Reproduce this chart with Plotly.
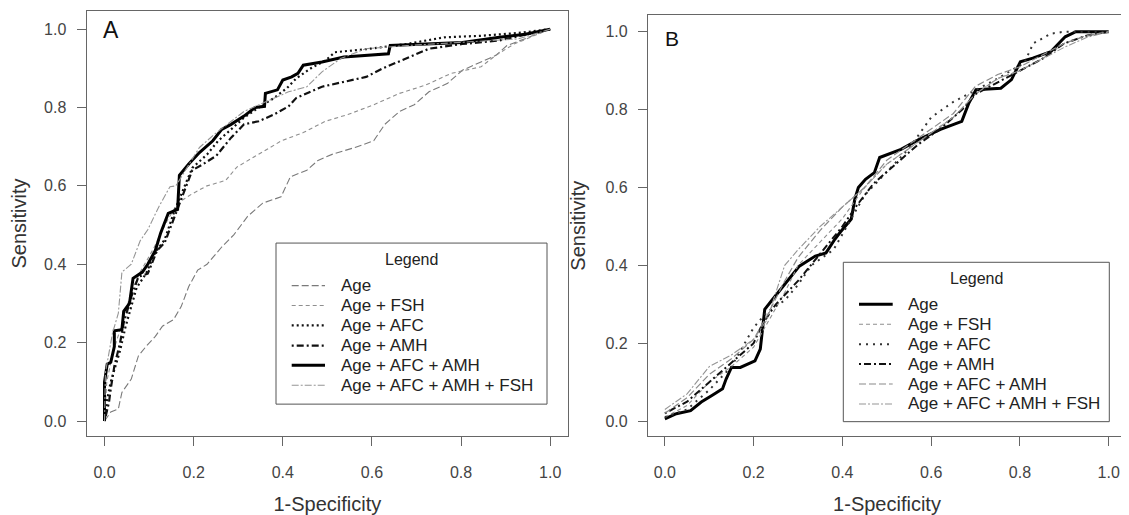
import plotly.graph_objects as go

# ---------------- Panel A data (1-Specificity, Sensitivity) ----------------
a_age_x = [0, 0.014, 0.031, 0.039, 0.06, 0.076, 0.093, 0.114, 0.13, 0.155, 0.172, 0.189, 0.209, 0.23, 0.263, 0.29,
           0.321, 0.355, 0.396, 0.417, 0.454, 0.479, 0.512, 0.562, 0.604, 0.629, 0.662, 0.695, 0.728, 0.77, 0.803,
           0.845, 0.878, 0.903, 0.944, 1.0]
a_age_y = [0, 0.023, 0.031, 0.073, 0.107, 0.166, 0.19, 0.216, 0.242, 0.259, 0.292, 0.343, 0.385, 0.40, 0.444, 0.475,
           0.522, 0.556, 0.572, 0.623, 0.64, 0.665, 0.681, 0.698, 0.715, 0.757, 0.79, 0.807, 0.84, 0.862, 0.895,
           0.916, 0.933, 0.958, 0.975, 1.0]

a_fsh_x = [0, 0.005, 0.02, 0.04, 0.06, 0.08, 0.11, 0.14, 0.164, 0.197, 0.23, 0.272, 0.297, 0.346, 0.397, 0.446,
           0.496, 0.546, 0.604, 0.662, 0.72, 0.778, 0.845, 0.878, 0.919, 1.0]
a_fsh_y = [0, 0.10, 0.18, 0.25, 0.33, 0.38, 0.44, 0.51, 0.556, 0.58, 0.60, 0.614, 0.648, 0.681, 0.715, 0.736,
           0.765, 0.782, 0.807, 0.836, 0.857, 0.887, 0.904, 0.933, 0.962, 1.0]

a_afc_x = [0, 0.006, 0.014, 0.027, 0.035, 0.047, 0.06, 0.072, 0.093, 0.114, 0.135, 0.155, 0.18, 0.197, 0.23, 0.255,
           0.28, 0.313, 0.346, 0.38, 0.409, 0.43, 0.463, 0.496, 0.517, 0.596, 0.678, 0.762, 0.845, 0.928, 1.0]
a_afc_y = [0, 0.056, 0.10, 0.15, 0.18, 0.24, 0.29, 0.34, 0.376, 0.43, 0.463, 0.53, 0.60, 0.646, 0.68, 0.715,
           0.74, 0.774, 0.80, 0.824, 0.849, 0.874, 0.90, 0.92, 0.941, 0.95, 0.962, 0.979, 0.983, 0.99, 1.0]

a_amh_x = [0, 0.01, 0.014, 0.022, 0.035, 0.043, 0.06, 0.076, 0.097, 0.118, 0.135, 0.155, 0.176, 0.197, 0.222, 0.251,
           0.284, 0.313, 0.346, 0.38, 0.413, 0.43, 0.488, 0.537, 0.587, 0.625, 0.678, 0.728, 0.803, 0.886, 1.0]
a_amh_y = [0, 0.048, 0.082, 0.14, 0.20, 0.25, 0.317, 0.368, 0.376, 0.435, 0.455, 0.514, 0.58, 0.64, 0.656, 0.677,
           0.723, 0.757, 0.765, 0.782, 0.803, 0.824, 0.853, 0.866, 0.878, 0.90, 0.925, 0.95, 0.962, 0.971, 1.0]

a_afc_amh_x = [0, 0, 0.006, 0.014, 0.022, 0.022, 0.039, 0.043, 0.056, 0.064, 0.085, 0.097, 0.114, 0.126, 0.143,
               0.164, 0.168, 0.189, 0.213, 0.243, 0.263, 0.284, 0.313, 0.338, 0.359, 0.361, 0.388, 0.40, 0.42,
               0.434, 0.446, 0.488, 0.537, 0.637, 0.641, 0.72, 0.803, 0.886, 0.944, 1.0]
a_afc_amh_y = [0, 0.10, 0.145, 0.15, 0.19, 0.23, 0.233, 0.28, 0.30, 0.364, 0.38, 0.40, 0.435, 0.48, 0.53,
               0.54, 0.627, 0.656, 0.685, 0.715, 0.744, 0.757, 0.778, 0.80, 0.803, 0.836, 0.845, 0.87, 0.878,
               0.887, 0.908, 0.916, 0.929, 0.937, 0.958, 0.962, 0.966, 0.979, 0.987, 1.0]

a_all_x = [0, 0.002, 0.01, 0.018, 0.031, 0.039, 0.06, 0.08, 0.097, 0.122, 0.147, 0.16, 0.213, 0.247, 0.28, 0.313,
           0.363, 0.413, 0.454, 0.488, 0.53, 0.587, 0.678, 0.803, 0.928, 1.0]
a_all_y = [0, 0.124, 0.174, 0.225, 0.275, 0.38, 0.40, 0.46, 0.488, 0.547, 0.598, 0.60, 0.698, 0.732, 0.761, 0.79,
           0.815, 0.84, 0.853, 0.891, 0.925, 0.95, 0.958, 0.966, 0.975, 1.0]

# ---------------- Panel B data ----------------
b_age_x = [0, 0.026, 0.058, 0.082, 0.106, 0.13, 0.138, 0.15, 0.17, 0.203, 0.215, 0.223, 0.225, 0.243, 0.267, 0.291,
           0.303, 0.339, 0.363, 0.383, 0.395, 0.42, 0.428, 0.436, 0.452, 0.472, 0.484, 0.532, 0.572, 0.621, 0.669,
           0.685, 0.701, 0.757, 0.781, 0.801, 0.829, 0.87, 0.902, 0.926, 1.0]
b_age_y = [0.006, 0.019, 0.027, 0.049, 0.066, 0.083, 0.108, 0.138, 0.138, 0.155, 0.185, 0.262, 0.287, 0.313, 0.347,
           0.381, 0.398, 0.424, 0.432, 0.467, 0.485, 0.519, 0.570, 0.60, 0.621, 0.638, 0.677, 0.698, 0.723, 0.749,
           0.770, 0.817, 0.851, 0.855, 0.877, 0.923, 0.932, 0.949, 0.987, 1.0, 1.0]

b_fsh_x = [0, 0.05, 0.1, 0.15, 0.2, 0.23, 0.27, 0.3, 0.35, 0.4, 0.45, 0.5, 0.55, 0.6, 0.65, 0.7, 0.75, 0.8, 0.85,
           0.9, 0.95, 1.0]
b_fsh_y = [0.01, 0.04, 0.10, 0.14, 0.19, 0.25, 0.33, 0.40, 0.46, 0.52, 0.60, 0.66, 0.70, 0.74, 0.78, 0.84, 0.88,
           0.90, 0.93, 0.97, 0.99, 1.0]

b_afc_x = [0, 0.05, 0.1, 0.15, 0.2, 0.23, 0.27, 0.3, 0.33, 0.38, 0.42, 0.45, 0.5, 0.55, 0.6, 0.65, 0.7, 0.75,
           0.81, 0.83, 0.87, 0.9, 1.0]
b_afc_y = [0.01, 0.03, 0.08, 0.14, 0.24, 0.28, 0.31, 0.35, 0.40, 0.44, 0.52, 0.58, 0.64, 0.70, 0.78, 0.82, 0.85,
           0.88, 0.92, 0.97, 0.995, 1.0, 1.0]

b_amh_x = [0, 0.05, 0.1, 0.15, 0.2, 0.22, 0.25, 0.3, 0.35, 0.4, 0.43, 0.47, 0.52, 0.57, 0.62, 0.67, 0.7, 0.75,
           0.8, 0.85, 0.9, 0.95, 1.0]
b_amh_y = [0.02, 0.05, 0.10, 0.15, 0.20, 0.25, 0.30, 0.36, 0.43, 0.50, 0.55, 0.61, 0.66, 0.71, 0.75, 0.80, 0.84,
           0.87, 0.90, 0.93, 0.97, 0.99, 1.0]

b_afc_amh_x = [0, 0.05, 0.1, 0.15, 0.2, 0.23, 0.27, 0.3, 0.35, 0.4, 0.45, 0.5, 0.55, 0.6, 0.65, 0.7, 0.75, 0.8,
               0.85, 0.9, 0.95, 1.0]
b_afc_amh_y = [0.02, 0.06, 0.12, 0.16, 0.21, 0.27, 0.36, 0.42, 0.49, 0.55, 0.60, 0.67, 0.71, 0.75, 0.79, 0.86,
               0.89, 0.91, 0.94, 0.97, 0.99, 1.0]

b_all_x = [0, 0.05, 0.1, 0.15, 0.2, 0.23, 0.27, 0.3, 0.35, 0.4, 0.45, 0.5, 0.55, 0.6, 0.65, 0.7, 0.75, 0.8, 0.85,
           0.9, 0.95, 1.0]
b_all_y = [0.03, 0.07, 0.14, 0.17, 0.21, 0.26, 0.40, 0.44, 0.50, 0.55, 0.60, 0.66, 0.70, 0.74, 0.78, 0.84, 0.88,
           0.90, 0.93, 0.96, 0.985, 1.0]

series_names = ["Age", "Age + FSH", "Age + AFC", "Age + AMH", "Age + AFC + AMH", "Age + AFC + AMH + FSH"]
tick_vals = [0.0, 0.2, 0.4, 0.6, 0.8, 1.0]
tick_text = ["0.0", "0.2", "0.4", "0.6", "0.8", "1.0"]

FONT = "Liberation Sans, Arial, Helvetica, sans-serif"

# Page has an 8px body margin, so the figure is sized to fit the 1129x515 window.
W, H, OFF = 1121, 507, 8


def px_x(sx):
    return (sx - OFF) / W


def px_y(sy):
    return 1 - (sy - OFF) / H


styles_a = [
    dict(color="#7a7a7a", width=1.1, dash="7px,3px"),
    dict(color="#8f8f8f", width=1.1, dash="4px,3px"),
    dict(color="#111111", width=2.2, dash="2px,3px"),
    dict(color="#111111", width=2.2, dash="2px,3px,7px,3px"),
    dict(color="#000000", width=3.0, dash="solid"),
    dict(color="#959595", width=1.1, dash="7px,2px,2px,2px"),
]
styles_b = [
    dict(color="#000000", width=3.0, dash="solid"),
    dict(color="#8f8f8f", width=1.1, dash="4px,3px"),
    dict(color="#333333", width=2.0, dash="2px,5px"),
    dict(color="#111111", width=2.0, dash="2px,3px,7px,3px"),
    dict(color="#8a8a8a", width=1.2, dash="7px,3px"),
    dict(color="#959595", width=1.1, dash="7px,2px,2px,2px"),
]

data_a = [(a_age_x, a_age_y), (a_fsh_x, a_fsh_y), (a_afc_x, a_afc_y), (a_amh_x, a_amh_y),
          (a_afc_amh_x, a_afc_amh_y), (a_all_x, a_all_y)]
data_b = [(b_age_x, b_age_y), (b_fsh_x, b_fsh_y), (b_afc_x, b_afc_y), (b_amh_x, b_amh_y),
          (b_afc_amh_x, b_afc_amh_y), (b_all_x, b_all_y)]

fig = go.Figure()
for name, (xs, ys), st in zip(series_names, data_a, styles_a):
    fig.add_trace(go.Scatter(x=xs, y=ys, mode="lines", name=name, line=st,
                             xaxis="x", yaxis="y", showlegend=False))
for name, (xs, ys), st in zip(series_names, data_b, styles_b):
    fig.add_trace(go.Scatter(x=xs, y=ys, mode="lines", name=name, line=st,
                             xaxis="x2", yaxis="y2", showlegend=False))

axis_common = dict(
    showline=True, mirror=True, linecolor="#666666", linewidth=1.3,
    ticks="outside", ticklen=9, tickwidth=1.2, tickcolor="#666666",
    tickvals=tick_vals, ticktext=tick_text,
    tickfont=dict(family=FONT, size=16, color="#444444"),
    showgrid=False, zeroline=False,
)

# ---------- legend boxes (drawn as shapes + text, matching the R-style legend) ----------
shapes = []
annotations = []


def add_legend(box, title_xy, sample_x, text_x, row_y, styles):
    x0, x1, y0, y1 = box
    shapes.append(dict(type="rect", xref="paper", yref="paper",
                       x0=px_x(x0), x1=px_x(x1), y0=px_y(y1), y1=px_y(y0),
                       line=dict(color="#555555", width=1), fillcolor="white", layer="above"))
    annotations.append(dict(text="Legend", x=px_x(title_xy[0]), y=px_y(title_xy[1]),
                            xref="paper", yref="paper", showarrow=False,
                            xanchor="center", yanchor="middle",
                            font=dict(family=FONT, size=16, color="#222222")))
    for i, (name, st) in enumerate(zip(series_names, styles)):
        yy = px_y(row_y[i])
        shapes.append(dict(type="line", xref="paper", yref="paper",
                           x0=px_x(sample_x[0]), x1=px_x(sample_x[1]), y0=yy, y1=yy,
                           line=dict(color=st["color"], width=st["width"], dash=st["dash"]),
                           layer="above"))
        annotations.append(dict(text=name, x=px_x(text_x), y=yy, xref="paper", yref="paper",
                                showarrow=False, xanchor="left", yanchor="middle",
                                font=dict(family=FONT, size=17, color="#222222")))


add_legend((276, 547, 244, 405.7), (411.7, 260), (291.7, 325), 339,
           [286.7, 306.7, 326.7, 347, 366.7, 386.7], styles_a)
add_legend((843.3, 1109.3, 263.3, 423.3), (976.7, 280), (859, 892.7), 906,
           [305.5, 325.5, 345.5, 365.5, 385.5, 405.5], styles_b)

annotations += [
    dict(text="A", x=0.015, y=0.998, xref="x", yref="y", showarrow=False,
         font=dict(family=FONT, size=23, color="#111111"), xanchor="center", yanchor="middle"),
    dict(text="B", x=0.017, y=0.982, xref="x2", yref="y2", showarrow=False,
         font=dict(family=FONT, size=21, color="#111111"), xanchor="center", yanchor="middle"),
]

TITLE_FONT = dict(family=FONT, size=20, color="#333333")

fig.update_layout(
    width=W, height=H, autosize=False,
    margin=dict(l=0, r=0, t=0, b=0),
    paper_bgcolor="white", plot_bgcolor="white",
    font=dict(family=FONT, color="#222222"),
    showlegend=False,
    xaxis=dict(domain=[px_x(86.7), px_x(568)], range=[-0.04, 1.04], anchor="y",
               title=dict(text="1-Specificity", font=TITLE_FONT, standoff=20),
               ticklabelstandoff=12, **axis_common),
    yaxis=dict(domain=[px_y(438), px_y(10.7)], range=[-0.039, 1.047], anchor="x",
               title=dict(text="Sensitivity", font=TITLE_FONT, standoff=14),
               ticklabelstandoff=7, **axis_common),
    xaxis2=dict(domain=[px_x(648), px_x(1126)], range=[-0.038, 1.039], anchor="y2",
                title=dict(text="1-Specificity", font=TITLE_FONT, standoff=20),
                ticklabelstandoff=12, **axis_common),
    yaxis2=dict(domain=[px_y(438), px_y(15)], range=[-0.039, 1.043], anchor="x2",
                title=dict(text="Sensitivity", font=TITLE_FONT, standoff=14),
                ticklabelstandoff=7, **axis_common),
    shapes=shapes,
    annotations=annotations,
)

fig.write_html("out.html")
